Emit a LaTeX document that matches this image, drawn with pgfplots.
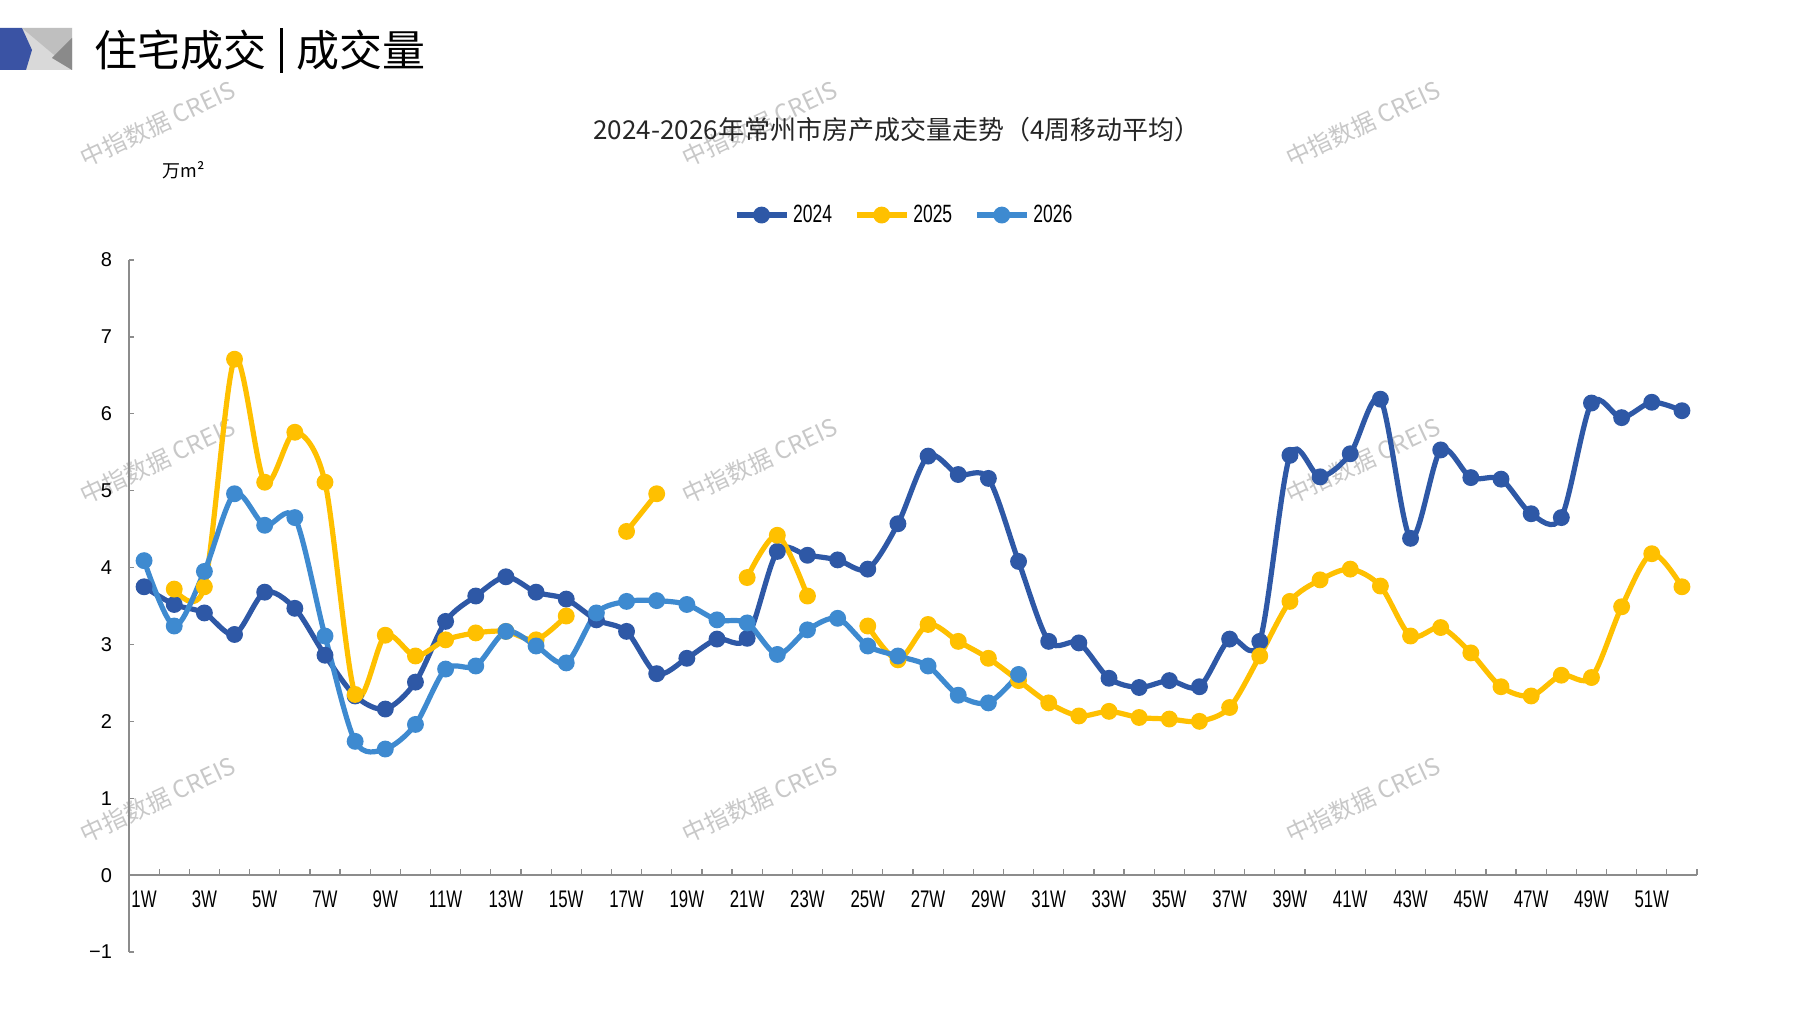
\documentclass[border=0pt]{standalone}
\usepackage{fontspec}
\setmainfont{Liberation Sans}
\newfontfamily\cjk{Noto Sans CJK SC}
\newfontfamily\narrow[FakeStretch=0.7]{Liberation Sans}
\usepackage{pgfplots}
\pgfplotsset{compat=1.18}
\definecolor{c24}{HTML}{2E58A6}
\definecolor{c25}{HTML}{FFC000}
\definecolor{c26}{HTML}{3E8AD0}
\definecolor{axisgray}{HTML}{8C8C8C}
\definecolor{wm}{HTML}{C8C8C8}
\definecolor{iconblue}{HTML}{3A53A4}

\pgfplotstableread{
w v
1 3.75
2 3.52
3 3.41
4 3.13
5 3.68
6 3.47
7 2.86
8 2.33
9 2.16
10 2.51
11 3.30
12 3.63
13 3.88
14 3.68
15 3.59
16 3.32
17 3.17
18 2.62
19 2.82
20 3.07
21 3.08
22 4.21
23 4.16
24 4.10
25 3.98
26 4.57
27 5.45
28 5.21
29 5.16
30 4.08
31 3.04
32 3.02
33 2.56
34 2.44
35 2.53
36 2.45
37 3.07
38 3.04
39 5.46
40 5.18
41 5.48
42 6.19
43 4.38
44 5.53
45 5.17
46 5.15
47 4.70
48 4.65
49 6.14
50 5.95
51 6.15
52 6.04
}\dataA

\pgfplotstableread{
w v
1 nan
2 3.72
3 3.75
4 6.71
5 5.11
6 5.76
7 5.11
8 2.35
9 3.12
10 2.85
11 3.06
12 3.15
13 3.17
14 3.06
15 3.37
16 nan
17 4.47
18 4.96
19 nan
20 nan
21 3.87
22 4.42
23 3.63
24 nan
25 3.24
26 2.80
27 3.26
28 3.04
29 2.82
30 2.53
31 2.24
32 2.07
33 2.13
34 2.05
35 2.03
36 2.00
37 2.18
38 2.85
39 3.56
40 3.84
41 3.98
42 3.76
43 3.11
44 3.22
45 2.89
46 2.45
47 2.33
48 2.60
49 2.57
50 3.49
51 4.18
52 3.75
}\dataB

\pgfplotstableread{
w v
1 4.09
2 3.24
3 3.95
4 4.96
5 4.55
6 4.65
7 3.11
8 1.74
9 1.64
10 1.96
11 2.68
12 2.72
13 3.17
14 2.98
15 2.76
16 3.41
17 3.56
18 3.57
19 3.52
20 3.32
21 3.28
22 2.87
23 3.19
24 3.34
25 2.98
26 2.85
27 2.72
28 2.34
29 2.24
30 2.61
}\dataC

\begin{document}
\begin{tikzpicture}
\path[use as bounding box, fill=white] (0,0) rectangle (898.5pt,-505pt);

\begin{scope}[x=0.5pt,y=-0.5pt]
  % header icon
  \fill[gray!30] (0,28) rectangle (72,70);
  \fill[gray!50] (22,28) -- (72,28) -- (72,70) -- cycle;
  \fill[gray!85!black!80] (72,38) -- (72,70) -- (52,58) -- cycle;
  \fill[iconblue] (0,28) -- (22,28) -- (32,50) -- (26,70) -- (0,70) -- cycle;
  \fill[black] (280,28) rectangle (283,73);
  % watermarks
  \foreach \x in {158,760,1363}{
    \foreach \y in {124,461,800}{
      \node[rotate=25, text=wm, font=\cjk\fontsize{12}{13}\selectfont] at (\x,\y) {中指数据 CREIS};
    }
  }
\end{scope}

\node[anchor=west, inner sep=0pt, font=\cjk\fontsize{21.5}{24}\selectfont] at (47pt,-25pt) {住宅成交};
\node[anchor=west, inner sep=0pt, font=\cjk\fontsize{21.5}{24}\selectfont] at (148pt,-25pt) {成交量};
\node[inner sep=0pt, text=black!85, font=\cjk\fontsize{13}{15}\selectfont] at (448.5pt,-65pt) {2024-2026年常州市房产成交量走势（4周移动平均）};
\node[inner sep=0pt, font=\cjk\fontsize{9}{10}\selectfont] at (92pt,-85pt) {万m²};

\begin{axis}[
  at={(64.5pt,-476pt)}, anchor=south west,
  scale only axis, width=784pt, height=346pt,
  xmin=0.5, xmax=52.5, ymin=-1, ymax=8,
  axis x line=middle, axis y line=left,
  axis line style={-, draw=axisgray, line width=0.7pt},
  x axis line style={line width=1.1pt},
  hide obscured x ticks=false, hide obscured y ticks=false,
  xtick={1,3,...,51},
  xticklabels={1W,3W,5W,7W,9W,11W,13W,15W,17W,19W,21W,23W,25W,27W,29W,31W,33W,35W,37W,39W,41W,43W,45W,47W,49W,51W},
  minor xtick={0.5,1.5,...,52.5},
  major x tick style={draw=none},
  tick align=inside,
  major tick length=2.5pt, minor tick length=3.2pt,
  tick style={draw=axisgray, line width=0.6pt},
  ytick={-1,0,...,8},
  yticklabels={−1,0,1,2,3,4,5,6,7,8},
  yticklabel style={font=\fontsize{10}{11}\selectfont, text=black, xshift=-5pt},
  xticklabel style={font=\narrow\fontsize{12}{13}\selectfont, text=black, yshift=-4.5pt},
  unbounded coords=jump,
  every axis plot/.append style={line width=2.6pt, smooth, mark=*, mark size=2.9pt},
  legend columns=3,
  legend style={at={(0.495,1.065)}, anchor=center, draw=none, fill=none,
    font=\narrow\fontsize{12.5}{13}\selectfont,
    /tikz/every even column/.append style={column sep=9pt}},
  legend image code/.code={\draw[mark repeat=2, mark phase=2, #1] plot coordinates {(0pt,0pt) (12.5pt,0pt) (25pt,0pt)};},
  clip=false,
]
\addplot[c24, mark options={fill=c24, draw=c24}] table[x=w, y=v] {\dataA};
\addlegendentry{2024}
\addplot[c25, mark options={fill=c25, draw=c25}] table[x=w, y=v] {\dataB};
\addlegendentry{2025}
\addplot[c26, mark options={fill=c26, draw=c26}] table[x=w, y=v] {\dataC};
\addlegendentry{2026}
\end{axis}
\end{tikzpicture}
\end{document}
